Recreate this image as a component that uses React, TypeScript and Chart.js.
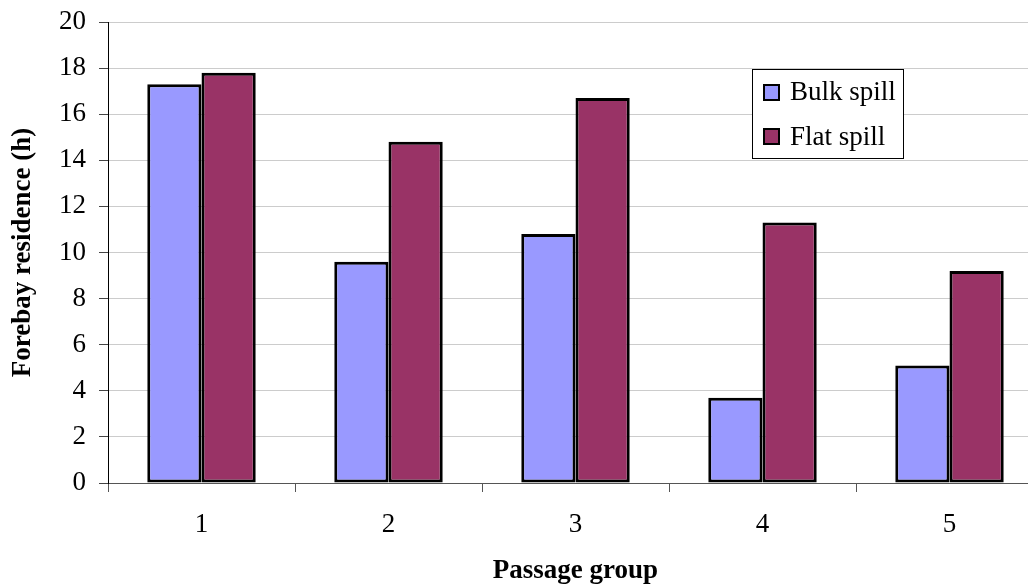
import React, { useEffect, useRef } from "react";
import { Chart, registerables } from "chart.js";

Chart.register(...registerables);

// Passage groups on the x axis
const categories: string[] = ["1", "2", "3", "4", "5"];
// Forebay residence time (hours) per passage group
const bulkSpill: number[] = [17.3, 9.6, 10.8, 3.7, 5.1];
const flatSpill: number[] = [17.8, 14.8, 16.7, 11.3, 9.2];
const seriesNames: string[] = ["Bulk spill", "Flat spill"];
const seriesColors: string[] = ["#9999FF", "#993366"];

const FONT = "'Liberation Serif', 'Times New Roman', serif";

// Bordered legend box drawn inside the plot, top right
const boxLegend = {
  id: "boxLegend",
  afterDraw(chart: Chart) {
    const ctx = chart.ctx;
    ctx.save();
    ctx.fillStyle = "#ffffff";
    ctx.fillRect(752.5, 69.5, 151, 89);
    ctx.strokeStyle = "#000000";
    ctx.lineWidth = 1;
    ctx.strokeRect(752.5, 69.5, 151, 89);
    const rows = [
      { markerY: 85, baseline: 100 },
      { markerY: 129, baseline: 145 },
    ];
    chart.data.datasets.forEach((ds, i) => {
      const r = rows[i];
      ctx.fillStyle = ds.backgroundColor as string;
      ctx.fillRect(764, r.markerY, 15, 15);
      ctx.lineWidth = 2;
      ctx.strokeStyle = "#000000";
      ctx.strokeRect(764, r.markerY, 15, 15);
      ctx.fillStyle = "#000000";
      ctx.font = `27px ${FONT}`;
      ctx.textAlign = "left";
      ctx.textBaseline = "alphabetic";
      ctx.fillText(ds.label as string, 790, r.baseline);
    });
    ctx.restore();
  },
};

export default function App() {
  const canvasRef = useRef<HTMLCanvasElement | null>(null);

  useEffect(() => {
    const canvas = canvasRef.current;
    if (!canvas) return;
    const chart = new Chart(canvas, {
      type: "bar",
      data: {
        labels: categories,
        datasets: [
          {
            label: seriesNames[0],
            data: bulkSpill,
            backgroundColor: seriesColors[0],
            borderColor: "#000000",
            borderWidth: 3,
            borderSkipped: false,
            categoryPercentage: 0.58,
            barPercentage: 1.0,
          },
          {
            label: seriesNames[1],
            data: flatSpill,
            backgroundColor: seriesColors[1],
            borderColor: "#000000",
            borderWidth: 3,
            borderSkipped: false,
            categoryPercentage: 0.58,
            barPercentage: 1.0,
          },
        ],
      },
      options: {
        responsive: false,
        animation: false,
        layout: { padding: { left: 0, top: 22, right: 7, bottom: 0 } },
        plugins: {
          legend: { display: false },
          tooltip: { enabled: false },
        },
        scales: {
          x: {
            grid: {
              offset: true,
              drawOnChartArea: false,
              tickLength: 9,
              tickColor: "#555555",
            },
            border: { color: "#555555", width: 1 },
            ticks: {
              color: "#000000",
              padding: 17,
              font: { family: FONT, size: 27 },
            },
            title: {
              display: true,
              text: "Passage group",
              color: "#000000",
              padding: { top: 0, bottom: 0 },
              font: { family: FONT, size: 27, weight: "bold" },
            },
            afterFit: (scale: any) => {
              scale.height = 104;
              scale.paddingLeft = 0;
              scale.paddingRight = 0;
            },
          },
          y: {
            min: 0,
            max: 20,
            ticks: {
              stepSize: 2,
              color: "#000000",
              padding: 13,
              font: { family: FONT, size: 27 },
            },
            grid: {
              color: "#cccccc",
              tickLength: 9,
              tickColor: "#444444",
            },
            border: { color: "#000000", width: 1 },
            title: {
              display: true,
              text: "Forebay residence (h)",
              color: "#000000",
              padding: { top: 7, bottom: 0 },
              font: { family: FONT, size: 27, weight: "bold" },
            },
            afterFit: (scale: any) => {
              scale.width = 108;
              scale.paddingTop = 0;
              scale.paddingBottom = 0;
            },
          },
        },
      },
      plugins: [boxLegend],
    });
    return () => chart.destroy();
  }, []);

  return (
    <div
      style={{
        position: "fixed",
        left: 0,
        top: 0,
        width: 1028,
        height: 587,
        overflow: "hidden",
        background: "#ffffff",
      }}
    >
      <canvas ref={canvasRef} width={1050} height={587} style={{ display: "block" }} />
    </div>
  );
}
